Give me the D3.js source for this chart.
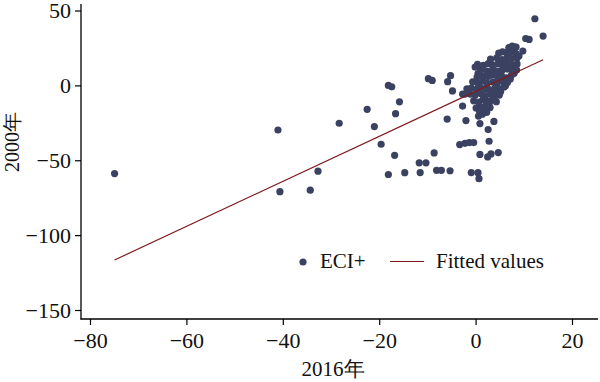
<!DOCTYPE html>
<html><head><meta charset="utf-8">
<script src="https://cdn.jsdelivr.net/npm/d3@7"></script>
<style>html,body{margin:0;padding:0;background:#fff;}svg{display:block;}</style>
</head><body>
<svg id="c" width="600" height="382"></svg>
<script>
// ECI+ values: 2016 (x) vs 2000 (y)
const eciX = [-74.9,-40.6,-41.0,-34.3,-32.7,-28.3,-22.5,-21.0,-19.6,-18.1,-17.4,-15.8,-16.6,-16.8,-18.1,-14.7,-11.7,-10.3,-11.5,-8.6,-9.8,-9.0,-8.1,-7.1,-5.3,-5.2,-5.8,-4.8,-5.9,-3.3,-2.2,-1.3,-0.4,-2.7,-2.7,-2.0,0.9,3.8,2.6,2.8,0.9,2.5,3.2,4.7,-0.9,0.5,0.7,12.3,14.0,10.4,11.1,8.2,9.8,0.4,-0.1,0.5,
  0.6,1.4,2.3, 0.1,1.0,2.1,3.0, -0.4,0.6,1.5,2.6,3.4,4.3, -1.1,-0.1,1.1,2.0,3.1,3.9,4.9, -1.8,-0.9,0.2,1.0,2.1,2.9,4.1,5.0,5.9,
  -0.6,0.4,1.6,2.4,3.6,4.4,5.6,6.6, 0.3,1.4,2.6,3.4,4.6,5.4,6.4,7.4, 1.1,2.4,3.6,4.5,5.5,6.6,7.6,8.5,
  1.6,2.6,3.4,4.6,5.6,6.4,7.6,8.6, 3.1,4.4,5.5,6.6,7.4,8.6, 4.8,5.6,6.5,7.5,8.4, 6.9,7.6,8.4, -1.5,-2.2,0.8,1.8,2.8,3.8,5.2,6.2,7.2,8.0,9.0];
const eciY = [-58.9,-71.0,-29.8,-70.0,-57.3,-25.3,-16.0,-27.5,-39.3,0.0,-1.0,-11.0,-18.9,-46.7,-59.5,-58.3,-51.7,-51.7,-58.2,-45.1,4.5,3.3,-56.7,-56.7,-57.0,6.5,2.5,-3.7,-22.5,-39.5,-38.7,-38.2,-38.2,-5.8,-13.8,-23.5,-25.5,-24.1,-29.5,-37.3,-46.1,-47.8,-45.8,-44.9,-58.2,-58.3,-62.3,44.5,32.9,31.3,30.7,25.5,22.9,14.0,12.2,7.8,
  -20.5,-19.2,-18.0, -15.1,-14.2,-13.6,-14.8, -10.3,-11.1,-9.6,-10.7,-9.8,-10.9, -5.8,-6.4,-5.5,-6.9,-6.0,-5.2,-6.6, -2.3,-1.8,-2.6,-1.4,-2.2,-2.9,-1.6,-2.4,-1.1,
  2.4,1.8,2.9,1.5,2.2,1.1,2.6,1.9, 5.6,6.4,5.9,6.8,5.3,6.2,5.1,6.6, 10.4,9.6,10.8,9.3,10.1,10.9,9.5,10.3,
  13.4,14.6,13.9,14.4,13.2,14.8,13.7,14.3, 17.6,18.4,17.2,18.9,17.8,18.3, 21.6,22.4,21.9,22.3,21.2, 25.2,26.3,25.6, -3.6,-5.8,-17.1,-16.3,-12.2,-7.8,-4.1,-0.2,4.3,8.1,19.6];
// Fitted values
const fitX = [-74.9, 14.0];
const fitY = [-116.6, 17.1];
const xTicks = [-80,-60,-40,-20,0,20];
const yTicks = [50,0,-50,-100,-150];

const svg = d3.select("#c");
const x = d3.scaleLinear().domain([-80,20]).range([90,572]);
const y = d3.scaleLinear().domain([-150,50]).range([310,10.5]);
const font = "Liberation Serif, DejaVu Serif, serif";

// axes lines
svg.append("line").attr("x1",81).attr("x2",81).attr("y1",4).attr("y2",319.5).attr("stroke","#000").attr("stroke-width",1.3);
svg.append("line").attr("x1",80.5).attr("x2",598).attr("y1",319).attr("y2",319).attr("stroke","#000").attr("stroke-width",1.3);

const xa = svg.append("g").attr("transform","translate(0,319)")
  .call(d3.axisBottom(x).tickValues(xTicks).tickSize(6).tickPadding(7).tickFormat(d=>d<0?"\u2212"+(-d):d));
const ya = svg.append("g").attr("transform","translate(81,0)")
  .call(d3.axisLeft(y).tickValues(yTicks).tickSize(6).tickPadding(4).tickFormat(d=>d<0?"\u2212"+(-d):d));
[xa,ya].forEach(a=>{
  a.attr("font-family",font).attr("font-size",22);
  a.select(".domain").remove();
  a.selectAll("line").attr("stroke","#000").attr("stroke-width",1.2);
  a.selectAll("text").attr("fill","#111");
});
ya.selectAll("text").attr("dy","0.33em");

// points
const pts = eciX.map((v,i)=>[v,eciY[i]]);
svg.append("g").selectAll("circle").data(pts).enter().append("circle")
  .attr("cx",d=>x(d[0])).attr("cy",d=>y(d[1])).attr("r",3.6).attr("fill","#3b4261");

// fitted line
svg.append("line").attr("x1",x(fitX[0])).attr("y1",y(fitY[0])).attr("x2",x(fitX[1])).attr("y2",y(fitY[1]))
  .attr("stroke","#7f1a1f").attr("stroke-width",1.2);

const g = svg.append("g").attr("font-family",font).attr("fill","#111");
// axis titles
g.append("text").attr("x",333).attr("y",376).attr("text-anchor","middle").attr("font-size",21).text("2016年");
g.append("text").attr("transform","translate(19,142) rotate(-90)").attr("text-anchor","middle").attr("font-size",20).text("2000年");

// legend
svg.append("circle").attr("cx",303).attr("cy",262).attr("r",3.6).attr("fill","#3b4261");
g.append("text").attr("x",320).attr("y",268).attr("font-size",21).text("ECI+");
svg.append("line").attr("x1",390).attr("x2",424).attr("y1",261.5).attr("y2",261.5).attr("stroke","#7f1a1f").attr("stroke-width",1.2);
g.append("text").attr("x",436).attr("y",268).attr("font-size",21).text("Fitted values");
</script>
</body></html>
